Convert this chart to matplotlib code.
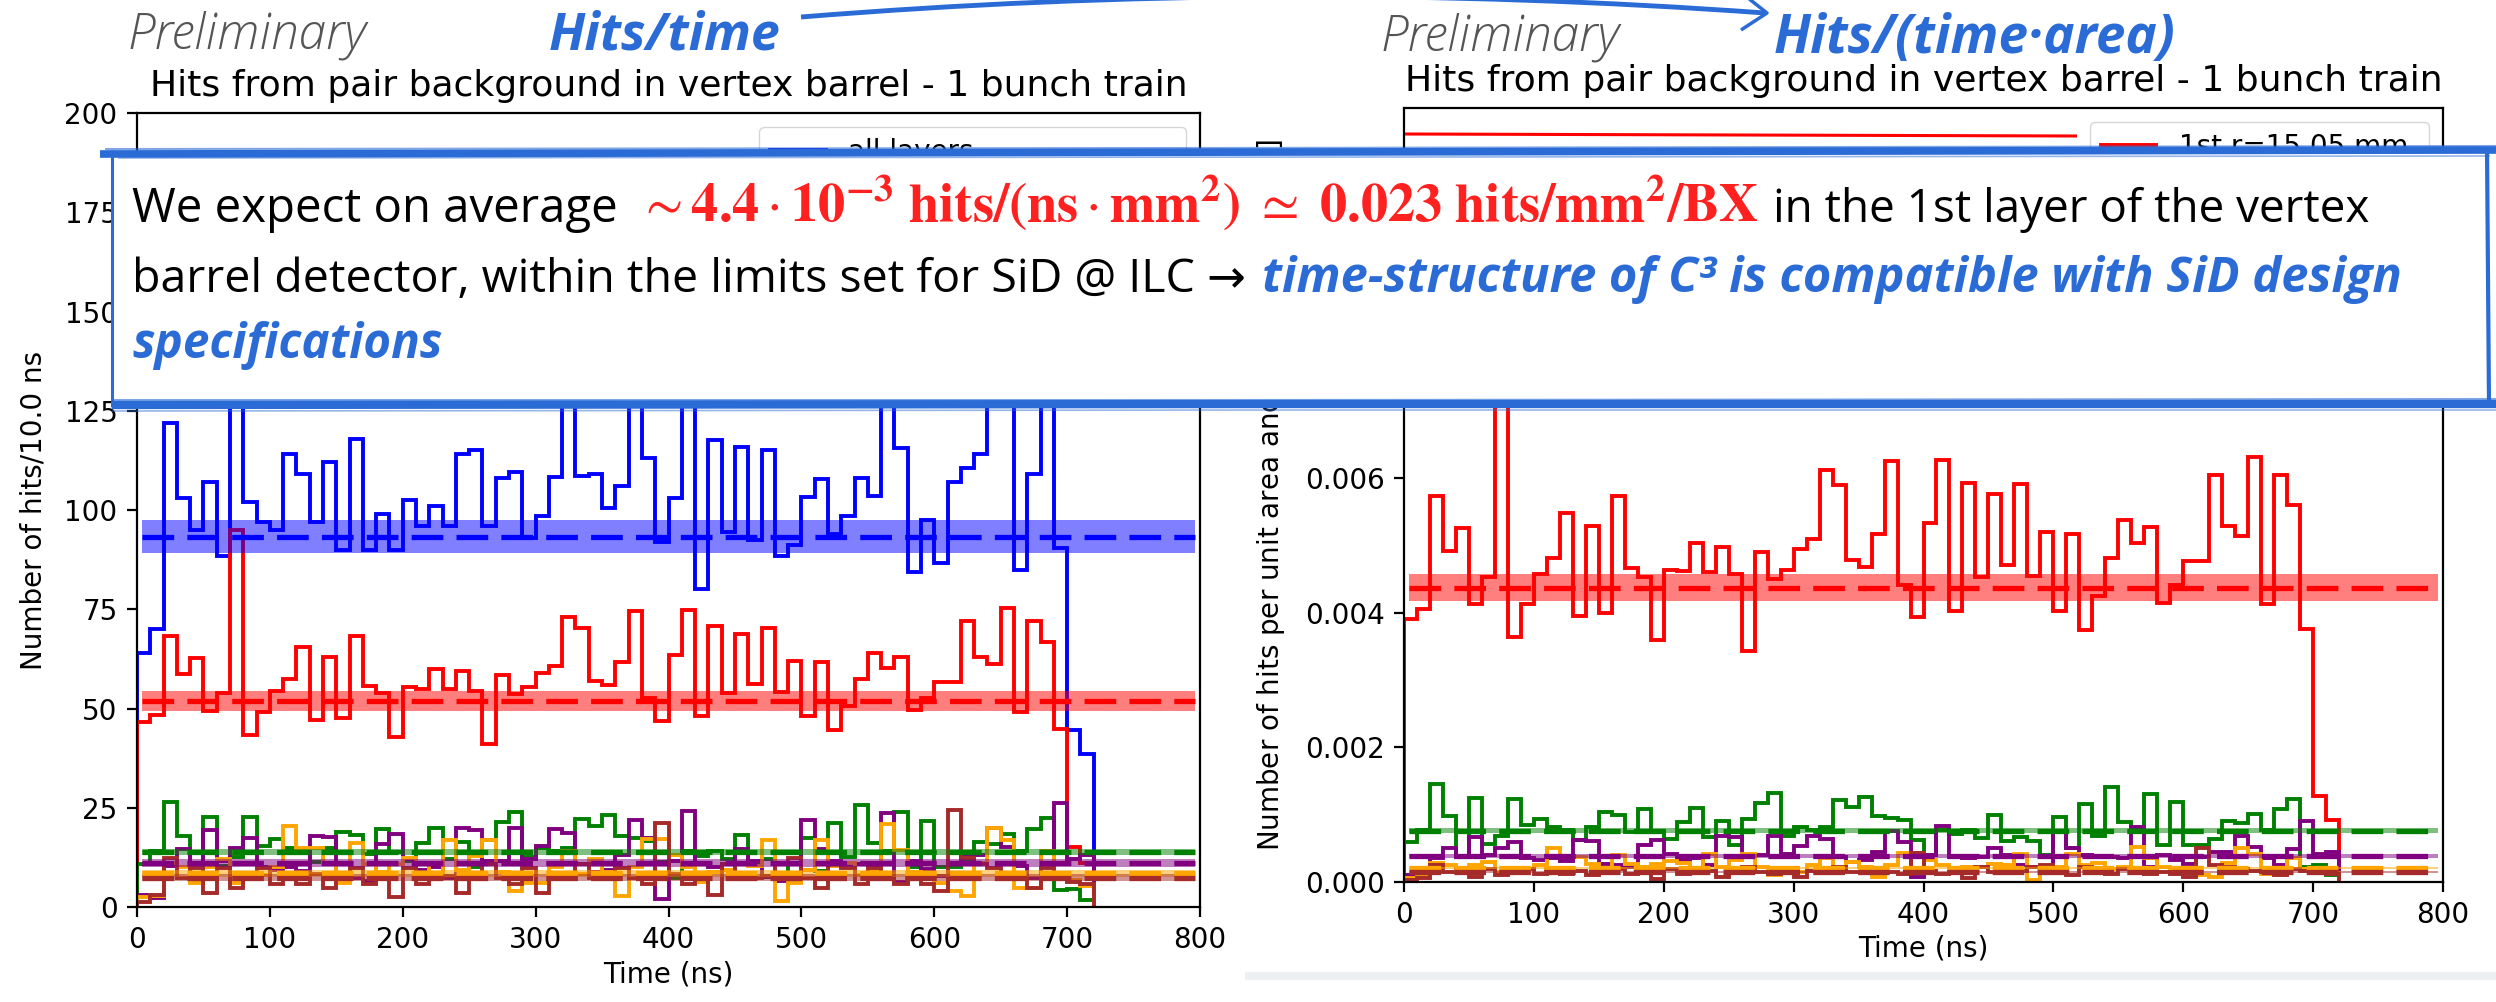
import numpy as np
import matplotlib
matplotlib.use("Agg")
import matplotlib.pyplot as plt
from matplotlib.lines import Line2D
from matplotlib.patches import Rectangle, PathPatch
from matplotlib.path import Path

# ---- data (10 ns bins, 0-720 ns) ----
bin_edges = np.arange(0, 730, 10)

# all layers, hits per 10 ns (bins under the text box are estimates)
all_layers = [64, 70, 122, 103, 95, 107, 88.5, 133, 102, 97,
              95, 114, 109, 97, 112, 90, 118, 90, 99, 90,
              102.5, 96, 101, 96, 114, 115, 96, 108, 109.5, 93,
              98.6, 108.4, 130, 108.6, 109, 100.4, 106, 131, 113, 92,
              103, 129, 80, 117.6, 94.5, 115.8, 92.4, 115, 88.5, 91.3,
              103.4, 107.8, 93.9, 98.6, 108, 103.6, 128, 115.6, 84.5, 97.6,
              86.6, 107, 110.7, 114, 127, 132, 85, 109, 130, 90.4,
              44.7, 38.5]

# 1st layer, hits per 10 ns
layer1_hits = [46.5, 48.4, 68.3, 58.7, 62.7, 49.3, 54, 95, 43.4, 49.2,
               54.5, 57.4, 65.4, 47.1, 63, 47.6, 68.3, 55.6, 54, 42.9,
               55.3, 55, 60, 54.9, 59.4, 54.5, 41, 58.5, 53.7, 55.3,
               58.9, 60.8, 73, 70.3, 57, 55.8, 61.6, 74.5, 52.6, 46.9,
               63.5, 74.8, 48, 70.7, 54, 68.8, 56.2, 70.4, 54.2, 62,
               48, 61.6, 44.6, 50.7, 57.4, 64.1, 60.1, 62.9, 49.5, 52.6,
               56.8, 56.8, 72.1, 63, 61.2, 75.3, 49.2, 72.1, 66.7, 44.8,
               15.2, 11]

# layers 2-5, hits per mm^2 per 10 ns, in units of 1e-4
layer2_rate = [5.95, 7.7, 14.5, 9.8, 3.7, 12.5, 5.7, 6.9, 12.4, 8.4,
               9.4, 8.1, 7.7, 6.2, 8.1, 10.4, 9.9, 7.4, 10.8, 7.6,
               6.4, 8.9, 11.0, 6.7, 9.0, 5.5, 9.3, 11.8, 13.2, 6.9,
               8.2, 7.8, 8.1, 12.2, 11.2, 12.7, 9.8, 9.5, 9.2, 6.2,
               4.0, 7.7, 7.1, 7.7, 6.6, 9.9, 6.1, 6.7, 6.1, 4.0,
               9.6, 5.0, 11.6, 6.9, 14.1, 8.9, 7.7, 13.1, 5.5, 11.9,
               5.5, 5.5, 6.4, 9.0, 8.7, 10.1, 7.7, 10.8, 12.3, 2.3,
               2.5, 1.0]
layer3_rate = [1.0, 0.8, 3.6, 5.0, 3.7, 6.7, 4.0, 5.1, 6.0, 3.5,
               3.2, 3.5, 3.1, 6.2, 6.1, 2.7, 2.5, 2.3, 5.5, 6.3,
               4.2, 3.2, 3.5, 2.5, 6.9, 6.7, 4.0, 4.0, 6.9, 4.2,
               5.3, 6.8, 6.4, 3.7, 3.0, 3.2, 4.5, 7.6, 6.0, 0.7,
               4.0, 8.3, 3.7, 3.5, 3.7, 5.0, 4.0, 2.6, 2.3, 2.2,
               7.6, 5.0, 4.0, 3.7, 3.7, 3.5, 8.2, 2.2, 4.0, 3.3,
               2.7, 3.7, 4.5, 4.5, 6.9, 5.2, 3.6, 2.5, 4.9, 9.0,
               4.2, 4.5]
layer4_rate = [0.6, 0.7, 2.8, 2.5, 1.5, 2.5, 3.0, 1.5, 2.0, 2.0,
               2.5, 5.1, 3.7, 3.7, 2.7, 1.5, 4.0, 2.7, 2.2, 2.7,
               3.1, 2.8, 2.0, 4.2, 2.3, 3.2, 4.2, 2.2, 1.0, 1.5,
               1.5, 2.5, 3.5, 2.1, 3.0, 2.2, 0.7, 2.5, 4.3, 4.3,
               3.3, 2.5, 1.6, 2.2, 2.3, 2.7, 2.6, 4.2, 0.35, 1.5,
               2.3, 4.2, 2.6, 2.8, 2.0, 2.3, 5.2, 3.6, 2.2, 1.8,
               1.5, 1.0, 0.7, 2.8, 5.0, 4.2, 1.2, 1.2, 3.5, 2.0,
               1.7, 1.3]
layer5_rate = [0.25, 0.6, 2.5, 1.5, 2.0, 0.7, 2.0, 1.0, 1.6, 2.0,
               1.2, 1.6, 1.2, 1.7, 1.0, 1.6, 2.0, 1.2, 1.5, 0.5,
               2.0, 1.2, 1.5, 1.6, 0.7, 1.7, 2.2, 1.5, 1.2, 2.0,
               0.7, 1.7, 1.5, 2.2, 1.5, 1.5, 2.0, 1.5, 1.2, 4.3,
               1.7, 1.2, 1.5, 0.6, 2.2, 1.5, 1.5, 1.6, 2.2, 2.5,
               1.5, 1.0, 2.2, 2.0, 1.2, 2.0, 1.7, 1.2, 1.5, 1.2,
               0.8, 5.0, 2.5, 2.2, 2.0, 1.7, 1.5, 1.0, 2.0, 1.6,
               1.3, 1.2]

# sensitive area of each barrel layer (mm^2)
layer_area = [11920, 18200, 29000, 40000, 49000]

layer_colors = ["red", "green", "purple", "orange", "brown"]
layer_labels_left = ["1st layer, r=15.05 mm", "2nd layer, r=23.00 mm", "3rd layer, r=35.00 mm",
                     "4th layer, r=47.60 mm", "5th layer, r=59.90 mm"]
layer_labels_right = ["1st r=15.05 mm", "2nd r=23.00 mm", "3rd r=35.00 mm",
                      "4th r=47.60 mm", "5th r=59.90 mm"]

# averages and their bands
mean_left = [93.3, 51.9, 13.8, 11.2, 8.5, 7.4]
err_left = [4.2, 2.5, 0.8, 1.0, 0.9, 0.9]
mean_right = [0.00437, 0.000760, 0.000387, 0.000208, 0.000149]
err_right = [0.00020, 0.000035, 0.000025, 0.000022, 0.000018]

# ---- convert to per-layer counts and rates ----
layer_hits = [np.array(layer1_hits)]
for rate, area in zip([layer2_rate, layer3_rate, layer4_rate, layer5_rate], layer_area[1:]):
    layer_hits.append(np.array(rate) * 1e-4 * area)
layer_rate = [h / a for h, a in zip(layer_hits, layer_area)]

# ---- figure ----
W, H = 2496, 1002
BLUE = "#2b6bd6"
SANS = ["Open Sans", "DejaVu Sans"]

plt.rcParams.update({
    "font.size": 20,
    "axes.linewidth": 1.6,
    "xtick.major.width": 1.6, "ytick.major.width": 1.6,
    "xtick.major.size": 7, "ytick.major.size": 7,
    "xtick.major.pad": 7, "ytick.major.pad": 7,
    "legend.fontsize": 20,
})

fig = plt.figure(figsize=(W / 100, H / 100), dpi=100)
fig.patch.set_facecolor("white")


def fx(x):
    return x / W


def fy(y):
    return 1 - y / H


axL = fig.add_axes([fx(137), fy(907), (1200 - 137) / W, (907 - 113) / H])
axR = fig.add_axes([fx(1404), fy(882), (2443 - 1404) / W, (882 - 108) / H])

title = "Hits from pair background in vertex barrel - 1 bunch train"

# left: hits per 10 ns
axL.stairs(all_layers, bin_edges, color="blue", lw=2.8, label="all layers")
for hits, c, lab in zip(layer_hits, layer_colors, layer_labels_left):
    axL.stairs(hits, bin_edges, color=c, lw=2.8, label=lab)
for m, e, c in zip(mean_left, err_left, ["blue"] + layer_colors):
    axL.fill_between([4, 796], m - e, m + e, color=c, alpha=0.5, lw=0)
    axL.hlines(m, 4, 796, colors=c, linestyles=(0, (6, 2.5)), lw=3.8)
axL.set_xlim(0, 800)
axL.set_ylim(0, 200)
axL.set_yticks(np.arange(0, 201, 25))
axL.set_xticks(np.arange(0, 801, 100))
axL.set_xlabel("Time (ns)")
axL.set_ylabel("Number of hits/10.0 ns", labelpad=12)
axL.set_title(title, fontsize=26, pad=12)
axL.legend(loc="upper right")

# right: hits per unit area
for rate, c, lab in zip(layer_rate, layer_colors, layer_labels_right):
    axR.stairs(rate, bin_edges, color=c, lw=2.8, label=lab)
for m, e, c in zip(mean_right, err_right, layer_colors):
    axR.fill_between([4, 796], m - e, m + e, color=c, alpha=0.5, lw=0)
    axR.hlines(m, 4, 796, colors=c, linestyles=(0, (6, 2.5)), lw=3.8)
axR.set_xlim(0, 800)
axR.set_ylim(0, 0.0115)
axR.set_yticks([0, 0.002, 0.004, 0.006, 0.008, 0.010])
axR.yaxis.set_major_formatter(matplotlib.ticker.FormatStrFormatter("%.3f"))
axR.set_xticks(np.arange(0, 801, 100))
axR.set_xlabel("Time (ns)")
axR.set_ylabel("Number of hits per unit area and time [ns$^{-1}$ mm$^{-2}$]", labelpad=12)
axR.set_title(title, fontsize=26, pad=12)
axR.legend(loc="upper right")

# ---- slide overlay ----
def stroke(xs, ys, lw, alpha=1.0, color=BLUE, z=2.6):
    fig.add_artist(Line2D([fx(x) for x in xs], [fy(y) for y in ys], lw=lw, color=color,
                          alpha=alpha, solid_capstyle="butt", zorder=z))


# faint edge of the pasted screenshot
fig.add_artist(Rectangle((fx(1245), fy(980)), (W - 1245) / W, 8 / H, transform=fig.transFigure,
                         facecolor="#eef0f4", edgecolor="none", zorder=1))
# stray red line at the top of the right plot
stroke([1405, 2077], [134, 136], 2.2, color="red", z=1)

# white text box
fig.add_artist(Rectangle((fx(112), fy(405)), (2488 - 112) / W, (405 - 152) / H,
                         transform=fig.transFigure, facecolor="white", edgecolor="none", zorder=2.5))
stroke([100, 1300, W], [154, 152, 150], 5.5)
stroke([105, 1200, W], [149, 148, 146], 1.5, alpha=0.6)
stroke([118, 1400, 2490], [158, 157, 156], 1.2, alpha=0.5)
stroke([112, 1300, W], [405, 404, 404], 6.0)
stroke([112, 1250, W], [400, 400, 399], 1.5, alpha=0.6)
stroke([112, 1300, W], [411, 410, 410], 1.2, alpha=0.5)
stroke([112, 112], [150, 407], 2.2)
stroke([2487, 2489], [148, 405], 3.0)

# curved arrow between the two headings
arc = Path([(fx(801), fy(17)), (fx(1283), fy(-22)), (fx(1765), fy(13))],
           [Path.MOVETO, Path.CURVE3, Path.CURVE3])
fig.add_artist(PathPatch(arc, transform=fig.transFigure, fill=False, edgecolor=BLUE, lw=3.5, zorder=3))
stroke([1748, 1767, 1741], [-2, 13, 30], 2.5, z=3)


def slide_text(x, y, s, width, **kw):
    t = fig.text(fx(x), fy(y), s, va="baseline", ha="left", zorder=3, **kw)
    r = fig.canvas.get_renderer()
    w = t.get_window_extent(r).width
    t.set_fontsize(t.get_fontsize() * width / w)
    return t


head = dict(family=SANS, weight="bold", style="italic", color=BLUE, fontsize=30)
prelim = dict(family=SANS, weight="light", style="italic", color="#555555", fontsize=30)
body = dict(family=SANS, color="black", fontsize=30)

slide_text(128, 49, "Preliminary", 239, **prelim)
slide_text(549, 49, "Hits/time", 232, **head)
slide_text(1381, 50, "Preliminary", 239, **prelim)
slide_text(1774, 53, "Hits/(time\u00b7area)", 402, **head)

red_math = (r"$\sim \mathbf{4.4} \cdot \mathbf{10^{-3}\ hits/(ns} \cdot \mathbf{mm^{2})}"
            r"\ \simeq\ \mathbf{0.023\ hits/mm^{2}/BX}$")
slide_text(132, 222, "We expect on average", 486, **body)
slide_text(638, 222, red_math, 1121, color="#ff2020", fontsize=38, math_fontfamily="stix")
slide_text(1773, 222, "in the 1st layer of the vertex", 597, **body)
slide_text(132, 292, "barrel detector, within the limits set for SiD @ ILC \u2192", 1112, **body)
slide_text(1262, 292, "time-structure of C\u00b3 is compatible with SiD design", 1140, **head)
slide_text(132, 358, "specifications", 311, **head)

fig.savefig("out.png", dpi=100, facecolor="white")
